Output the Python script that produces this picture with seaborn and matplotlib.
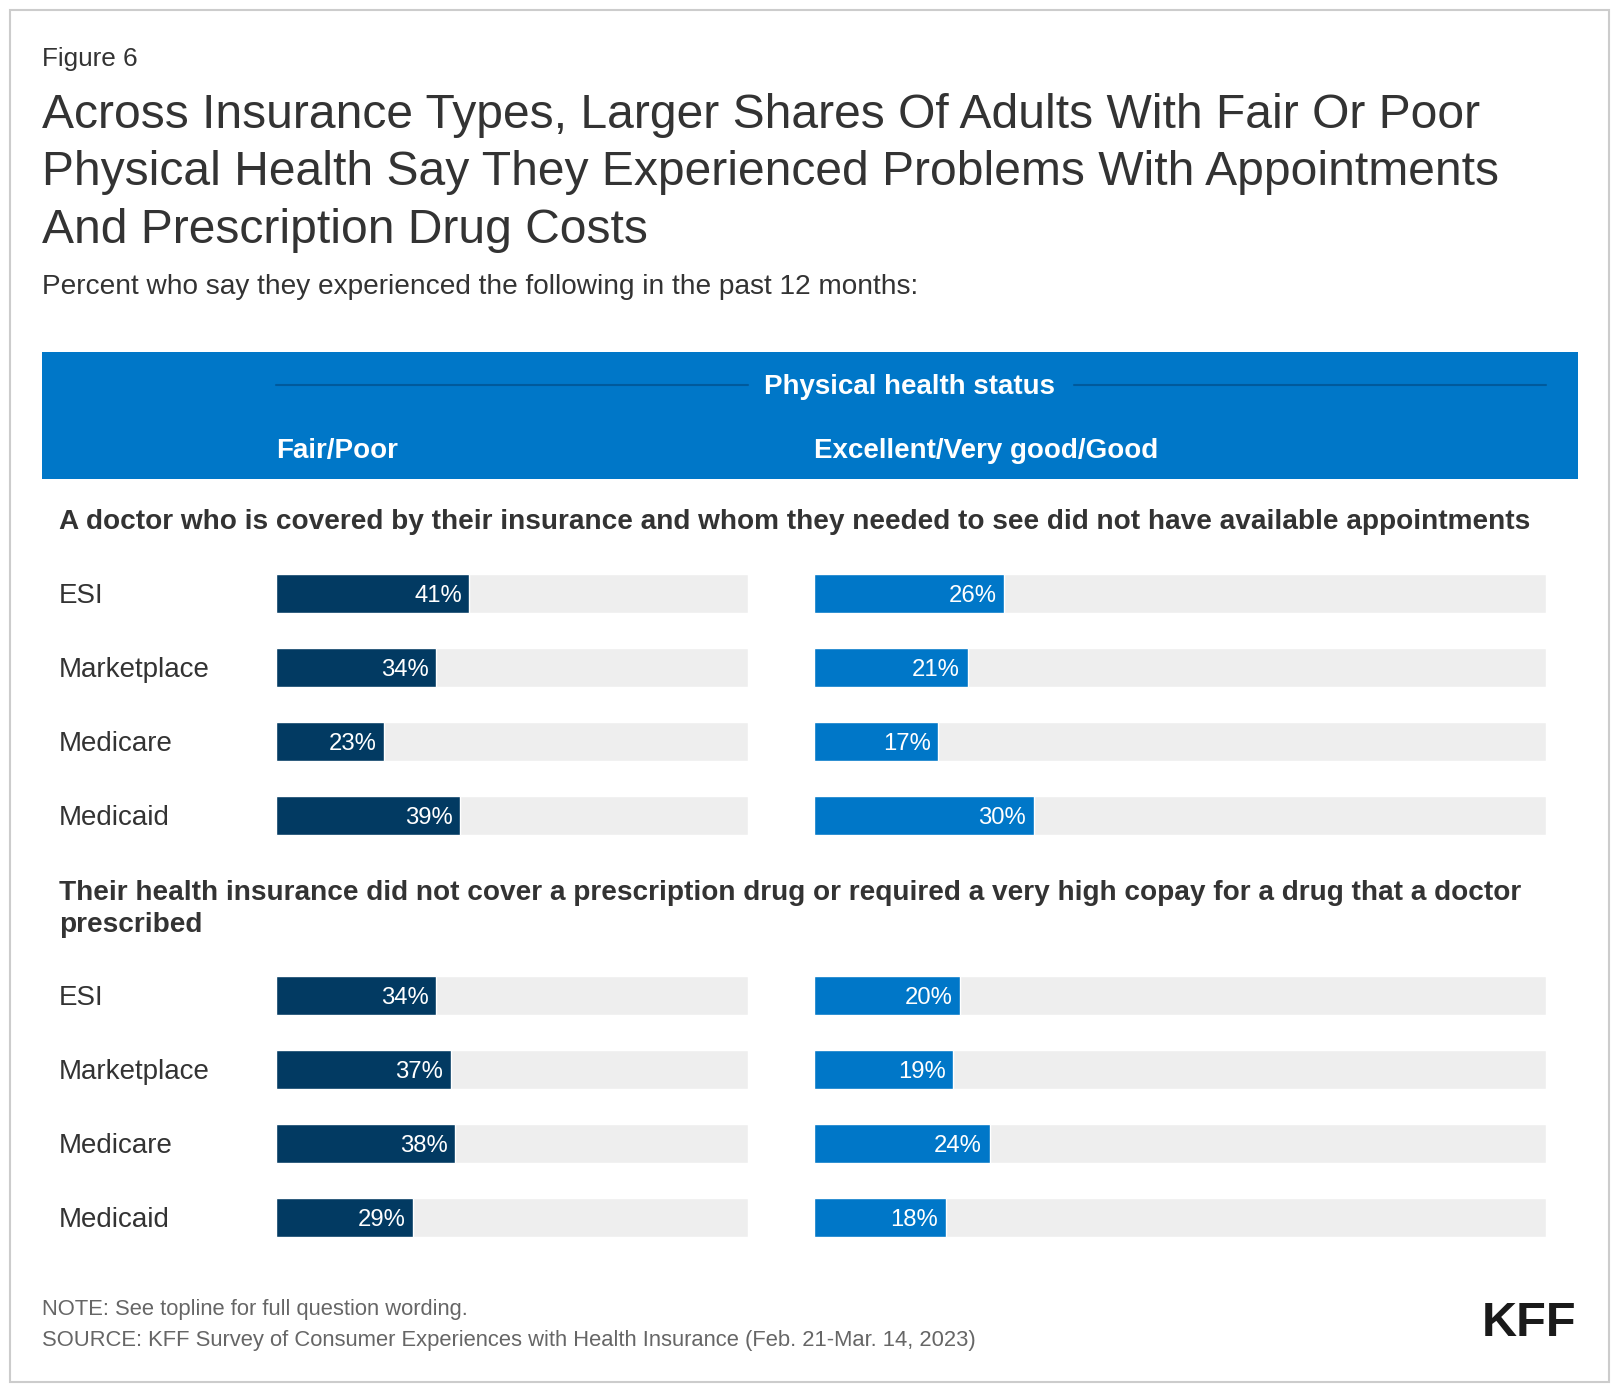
import matplotlib
matplotlib.use("Agg")
import matplotlib.pyplot as plt
import matplotlib.transforms as mtransforms
from matplotlib.patches import Rectangle
from matplotlib.lines import Line2D
import pandas as pd
import seaborn as sns

# data
categories = ["ESI", "Marketplace", "Medicare", "Medicaid"]
doctor_fair_poor = [41, 34, 23, 39]
doctor_good = [26, 21, 17, 30]
drug_fair_poor = [34, 37, 38, 29]
drug_good = [20, 19, 24, 18]
scale_max = 100

NAVY = "#023a62"
BLUE = "#0077c8"
TRACK = "#eeeeee"
TEXT = "#333333"
GRAY = "#666666"

sns.set_theme(style="white")
plt.rcParams["font.family"] = ["Liberation Sans", "DejaVu Sans"]

W, H = 1568, 1350  # layout grid the positions below are measured on
DY = 2.5  # text centre nudge


def fx(px):
    return px / W


def fy(py):
    return 1 - py / H


def ty(py):
    return fy(py + DY)


fig = plt.figure(figsize=(16.2, 13.94), dpi=100)
fig.patch.set_facecolor("white")

# outer border
fig.add_artist(Rectangle((fx(10), fy(1338)), fx(1557) - fx(10), fy(10) - fy(1338),
                         transform=fig.transFigure, fill=False, edgecolor="#cccccc", lw=1.5))

fig.text(fx(41), ty(55), "Figure 6", fontsize=18.8, color=TEXT, va="center")
title_lines = ["Across Insurance Types, Larger Shares Of Adults With Fair Or Poor",
               "Physical Health Say They Experienced Problems With Appointments",
               "And Prescription Drug Costs"]
for i, line in enumerate(title_lines):
    fig.text(fx(41), ty(109 + 56 * i), line, fontsize=34.6, color=TEXT, va="center")
fig.text(fx(41), ty(275), "Percent who say they experienced the following in the past 12 months:",
         fontsize=20.2, color=TEXT, va="center")

# header band
fig.add_artist(Rectangle((fx(41), fy(464)), fx(1527) - fx(41), fy(341) - fy(464),
                         transform=fig.transFigure, color=BLUE, lw=0))
fig.text(fx(880), ty(372), "Physical health status", fontsize=20, color="white",
         fontweight="bold", ha="center", va="center")
for x0, x1 in [(267, 724), (1040, 1496)]:
    fig.add_artist(Line2D([fx(x0), fx(x1)], [fy(373), fy(373)], transform=fig.transFigure,
                          color="#005a9c", lw=1.5))
fig.text(fx(267), ty(434), "Fair/Poor", fontsize=20, color="white", fontweight="bold", va="center")
fig.text(fx(788), ty(434), "Excellent/Very good/Good", fontsize=20, color="white",
         fontweight="bold", va="center")

# section headings
fig.text(fx(57), ty(503),
         "A doctor who is covered by their insurance and whom they needed to see did not have available appointments",
         fontsize=20.15, color=TEXT, fontweight="bold", va="center")
fig.text(fx(57), ty(877.5),
         "Their health insurance did not cover a prescription drug or required a very high copay for a drug that a doctor\nprescribed",
         fontsize=20.15, color=TEXT, fontweight="bold", va="center", linespacing=1.3)

sections = [
    (539.2, 825.8, doctor_fair_poor, doctor_good),
    (928.2, 1214.8, drug_fair_poor, drug_good),
]
columns = [(267, 724, NAVY), (788, 1496, BLUE)]

for top, bottom, left_vals, right_vals in sections:
    for (x0, x1, color), vals in zip(columns, [left_vals, right_vals]):
        ax = fig.add_axes([fx(x0), fy(bottom), fx(x1) - fx(x0), fy(top) - fy(bottom)])
        df = pd.DataFrame({"type": categories, "value": vals, "track": [scale_max] * len(vals)})
        sns.barplot(data=df, x="track", y="type", orient="h", color=TRACK, saturation=1,
                    width=0.53, ax=ax)
        sns.barplot(data=df, x="value", y="type", orient="h", color=color, saturation=1,
                    width=0.53, ax=ax)
        ax.set_xlim(0, scale_max)
        ax.set_ylim(len(categories) - 0.5, -0.5)
        ax.axis("off")
        for i, v in enumerate(vals):
            ax.annotate(f"{v}%", (v, i), xytext=(-5.5, -1.8), textcoords="offset points",
                        ha="right", va="center", color="white", fontsize=17.2)
        if x0 == 267:
            trans = mtransforms.blended_transform_factory(fig.transFigure, ax.transData)
            for i, cat in enumerate(categories):
                ax.annotate(cat, (fx(57), i), xycoords=trans, xytext=(0, -1.8),
                            textcoords="offset points", fontsize=20, color=TEXT,
                            va="center", ha="left", annotation_clip=False)

# footer
fig.text(fx(41), ty(1266), "NOTE: See topline for full question wording.", fontsize=15.8,
         color=GRAY, va="center")
fig.text(fx(41), ty(1296),
         "SOURCE: KFF Survey of Consumer Experiences with Health Insurance (Feb. 21-Mar. 14, 2023)",
         fontsize=15.8, color=GRAY, va="center")
fig.text(fx(1526), ty(1279), "KFF", fontsize=35, color="#1a1a1a", fontweight="bold",
         ha="right", va="center")

fig.savefig("out.png", dpi=100)
